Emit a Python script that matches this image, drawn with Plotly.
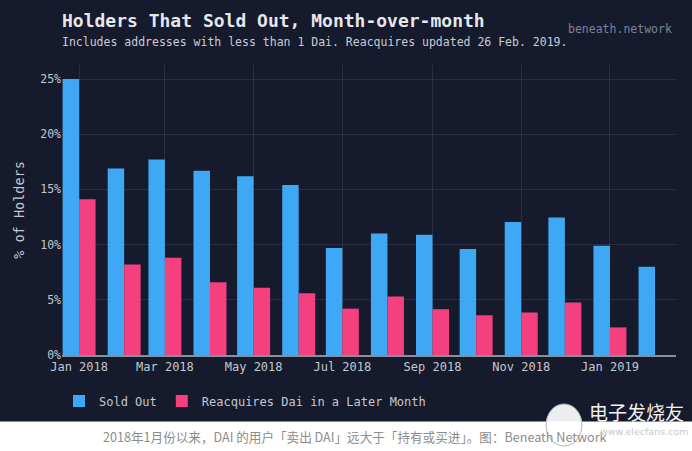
import plotly.graph_objects as go

months = ["2018-01-01", "2018-02-01", "2018-03-01", "2018-04-01", "2018-05-01", "2018-06-01",
          "2018-07-01", "2018-08-01", "2018-09-01", "2018-10-01", "2018-11-01", "2018-12-01",
          "2019-01-01", "2019-02-01"]
sold_out = [25.0, 16.9, 17.7, 16.7, 16.2, 15.4, 9.7, 11.0, 10.9, 9.6, 12.05, 12.45, 9.9, 8.0]
reacq_months = months[:13]
reacquires = [14.1, 8.2, 8.8, 6.6, 6.1, 5.6, 4.2, 5.3, 4.15, 3.6, 3.85, 4.75, 2.5]
y_ticks = [0, 5, 10, 15, 20, 25]
y_tick_labels = ["0%", "5%", "10%", "15%", "20%", "25%"]

BG = "#151a2c"
BLUE = "#3fa8f4"
PINK = "#f4407e"
TXT = "#c4c7cf"
MONO = "DejaVu Sans Mono"

W, H = 692, 451
L, R, T, B = 62, 16, 65, 96
pw, ph = W - L - R, H - T - B

def px_x(x):
    return (x - L) / pw

def px_y(y):
    return (H - B - y) / ph

fig = go.Figure()
fig.add_trace(go.Bar(x=months, y=sold_out, name="Sold Out", marker_color=BLUE,
                     marker_line_width=0))
fig.add_trace(go.Bar(x=reacq_months, y=reacquires, name="Reacquires Dai in a Later Month",
                     marker_color=PINK, marker_line_width=0))

fig.update_layout(
    width=W, height=H,
    margin=dict(l=L, r=R, t=T, b=B),
    paper_bgcolor=BG, plot_bgcolor=BG,
    barmode="group", bargap=0.19, bargroupgap=0,
    font=dict(family=MONO, color=TXT, size=12),
    showlegend=True,
    legend=dict(orientation="h", x=px_x(59), y=px_y(401), xanchor="left", yanchor="middle",
                font=dict(family=MONO, size=12, color=TXT), bgcolor="rgba(0,0,0,0)",
                itemclick=False),
    xaxis=dict(type="date", range=["2017-12-20 06:00", "2019-02-15 10:00"],
               dtick="M2", tick0="2018-01-01", tickformat="%b %Y",
               showgrid=True, gridcolor="rgba(255,255,255,0.09)", gridwidth=1,
               showline=True, linecolor="#8a8f9c", linewidth=1.5,
               ticks="", tickfont=dict(family=MONO, size=12, color=TXT), zeroline=False),
    yaxis=dict(range=[0, 26.27], tickmode="array", tickvals=y_ticks, ticktext=y_tick_labels,
               showgrid=True, gridcolor="rgba(255,255,255,0.09)", gridwidth=1,
               zeroline=False, showline=False, ticks="",
               tickfont=dict(family=MONO, size=11.5, color=TXT),
               title=dict(text="% of Holders", font=dict(family=MONO, size=13.5, color=TXT),
                          standoff=12)),
)

shapes = [
    dict(type="rect", xref="paper", yref="paper", x0=px_x(-5), x1=px_x(W + 5),
         y0=px_y(H + 5), y1=px_y(421.5), fillcolor="white", line_width=0, layer="below"),
    # watermark circle
    dict(type="circle", xref="paper", yref="paper", x0=px_x(546), x1=px_x(582),
         y0=px_y(446), y1=px_y(404), fillcolor="rgba(255,255,255,0.92)",
         line=dict(color="#b5b5b5", width=1), layer="above"),
]
fig.update_layout(shapes=shapes)

annotations = [
    dict(text="<b>Holders That Sold Out, Month-over-month</b>", x=px_x(60), y=px_y(21),
         xref="paper", yref="paper", xanchor="left", yanchor="middle", showarrow=False,
         font=dict(family=MONO, size=18, color="#e6e7ec")),
    dict(text="Includes addresses with less than 1 Dai. Reacquires updated 26 Feb. 2019.",
         x=px_x(60), y=px_y(42), xref="paper", yref="paper", xanchor="left", yanchor="middle",
         showarrow=False, font=dict(family=MONO, size=11.5, color="#c9ccd4")),
    dict(text="beneath.network", x=px_x(674), y=px_y(29), xref="paper", yref="paper",
         xanchor="right", yanchor="middle", showarrow=False,
         font=dict(family=MONO, size=11.5, color="#7d8396")),
    dict(text="2018年1月份以来，DAI 的用户「卖出 DAI」远大于「持有或买进」。图：Beneath Network",
         x=px_x(355), y=px_y(436), xref="paper", yref="paper", xanchor="center",
         yanchor="middle", showarrow=False,
         font=dict(family="Noto Sans CJK SC", size=12.6, color="#8c8c8c")),
    dict(text="电子发烧友", x=px_x(636), y=px_y(411), xref="paper", yref="paper",
         xanchor="center", yanchor="middle", showarrow=False,
         font=dict(family="Noto Sans CJK SC", size=19, color="#f4f4f4")),
    dict(text="www.elecfans.com", x=px_x(644), y=px_y(431), xref="paper", yref="paper",
         xanchor="center", yanchor="middle", showarrow=False,
         font=dict(family="DejaVu Sans", size=9.5, color="#c8c8c8")),
]
fig.update_layout(annotations=annotations)

fig.write_html("out.html")
